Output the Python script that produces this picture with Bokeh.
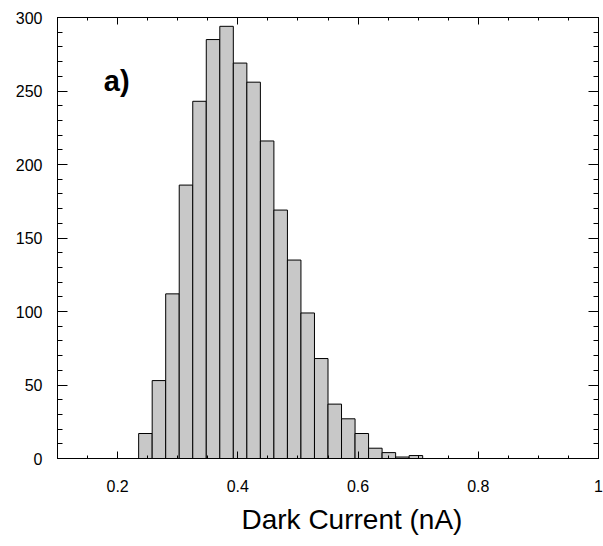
from bokeh.plotting import figure
from bokeh.models import Range1d, LinearAxis, Label, FixedTicker, CustomJSTickFormatter, Title
from bokeh.embed import file_html
from bokeh.resources import INLINE

# Histogram data (bin width 0.0225, first populated bin starts at 0.235)
bin_start = 0.235
bin_width = 0.0225
counts = [17, 53, 112, 186, 243, 285, 294, 269, 256, 216, 169, 135, 99, 68, 37, 27, 17, 7, 4, 1, 2]

x_ticks = [0.2, 0.4, 0.6, 0.8, 1.0]
y_ticks = [0, 50, 100, 150, 200, 250, 300]

panel_label = "a)"
x_title = "Dark Current (nA)"

FONT = "Liberation Sans"

lefts = [bin_start + i * bin_width for i in range(len(counts))]
rights = [l + bin_width for l in lefts]
x_minor = [0.1 + 0.05 * i for i in range(19)]
y_minor = list(range(0, 301, 10))

p = figure(width=603, height=546, output_backend="svg", toolbar_location=None,
           x_range=Range1d(0.1, 1.0), y_range=Range1d(0, 300),
           min_border_left=57, min_border_right=5, min_border_top=17, min_border_bottom=88)

p.quad(left=lefts, right=rights, bottom=0, top=counts,
       fill_color="#c8c8c8", line_color="black", line_width=1)

p.grid.visible = False
p.outline_line_color = "black"
p.outline_line_width = 1
p.background_fill_color = "white"
p.border_fill_color = "white"

xa = p.xaxis[0]
xa.ticker = FixedTicker(ticks=x_ticks, minor_ticks=x_minor)
xa.formatter = CustomJSTickFormatter(code="return tick >= 0.999 ? '1' : tick.toFixed(1);")
xa.major_label_text_font = FONT
xa.major_label_text_font_size = "16px"
xa.major_label_text_color = "black"
xa.major_label_standoff = 21
xa.major_tick_in = 7
xa.major_tick_out = 0
xa.minor_tick_in = 3
xa.minor_tick_out = 0
xa.axis_line_color = "black"

ya = p.yaxis[0]
ya.ticker = FixedTicker(ticks=y_ticks, minor_ticks=y_minor)
ya.major_label_text_font = FONT
ya.major_label_text_font_size = "16px"
ya.major_label_text_color = "black"
ya.major_label_standoff = 15
ya.major_tick_in = 10
ya.major_tick_out = 0
ya.minor_tick_in = 5
ya.minor_tick_out = 0
ya.axis_line_color = "black"

blank = CustomJSTickFormatter(code="return '';")
# mirrored ticks on right and top (no labels)
ra = LinearAxis(ticker=FixedTicker(ticks=y_ticks, minor_ticks=y_minor), formatter=blank,
                major_label_standoff=0,
                major_tick_in=10, major_tick_out=0, minor_tick_in=5, minor_tick_out=0,
                axis_line_color="black")
p.add_layout(ra, "right")
ta = LinearAxis(ticker=FixedTicker(ticks=x_ticks, minor_ticks=x_minor), formatter=blank,
                major_label_standoff=0,
                major_tick_in=7, major_tick_out=0, minor_tick_in=3, minor_tick_out=0,
                axis_line_color="black")
p.add_layout(ta, "above")

p.add_layout(Label(x=0.177, y=257, text=panel_label, text_font=FONT, text_font_size="29px",
                   text_font_style="bold", text_color="black", text_baseline="alphabetic"))

p.add_layout(Title(text=x_title, align="left", offset=184, text_font=FONT,
                   text_font_size="28px", text_font_style="normal", text_color="black",
                   standoff=15), "below")

open("out.html", "w").write(file_html(p, INLINE))
